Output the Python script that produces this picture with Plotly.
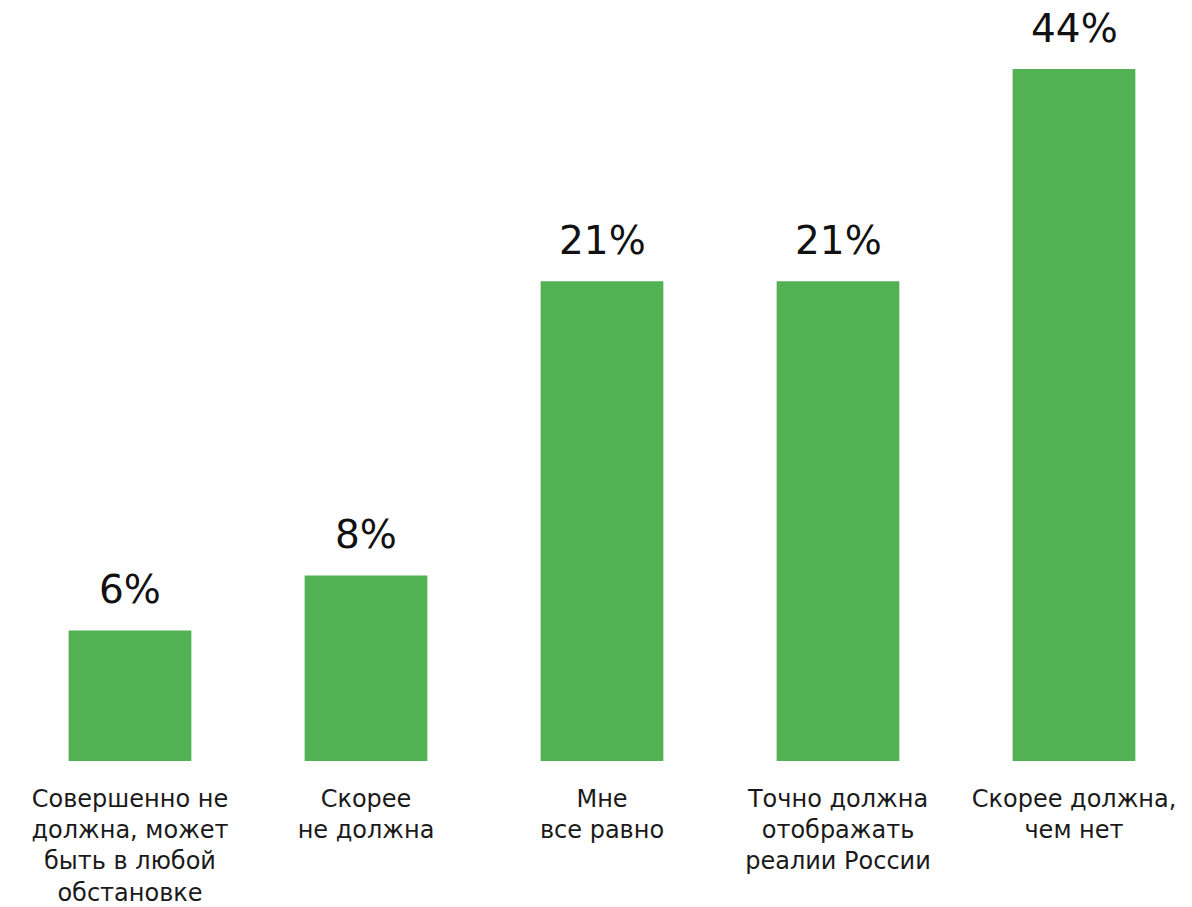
import plotly.graph_objects as go

categories = [
    "Совершенно не<br>должна, может<br>быть в любой<br>обстановке",
    "Скорее<br>не должна",
    "Мне<br>все равно",
    "Точно должна<br>отображать<br>реалии России",
    "Скорее должна,<br>чем нет",
]
shares = [6, 8, 21, 21, 44]
# drawn bar heights (relative units, tallest = 44)
bar_heights = [8.3, 11.8, 30.5, 30.5, 44]
share_labels = [f"{v}%" for v in shares]

GREEN = "#52B152"

fig = go.Figure(
    go.Bar(
        x=list(range(len(categories))),
        y=bar_heights,
        marker=dict(color=GREEN, line=dict(width=0)),
        width=0.52,
        hoverinfo="skip",
    )
)

for i, (h, lab) in enumerate(zip(bar_heights, share_labels)):
    fig.add_annotation(
        x=i, y=h, text=lab, showarrow=False, yanchor="bottom", yshift=16,
        font=dict(family="DejaVu Sans", size=39, color="#111111"),
    )

fig.update_layout(
    width=1192, height=907,
    margin=dict(l=12, r=0, t=69, b=146, autoexpand=False),
    paper_bgcolor="white", plot_bgcolor="white",
    showlegend=False,
    xaxis=dict(
        tickmode="array", tickvals=list(range(len(categories))), ticktext=categories,
        range=[-0.5, 4.5], showgrid=False, zeroline=False, showline=False,
        ticks="", tickfont=dict(family="DejaVu Sans", size=24, color="#1a1a1a"),
        ticklabelstandoff=21, automargin=False,
    ),
    yaxis=dict(range=[0, 44], visible=False, automargin=False),
)

fig.write_html("out.html")
